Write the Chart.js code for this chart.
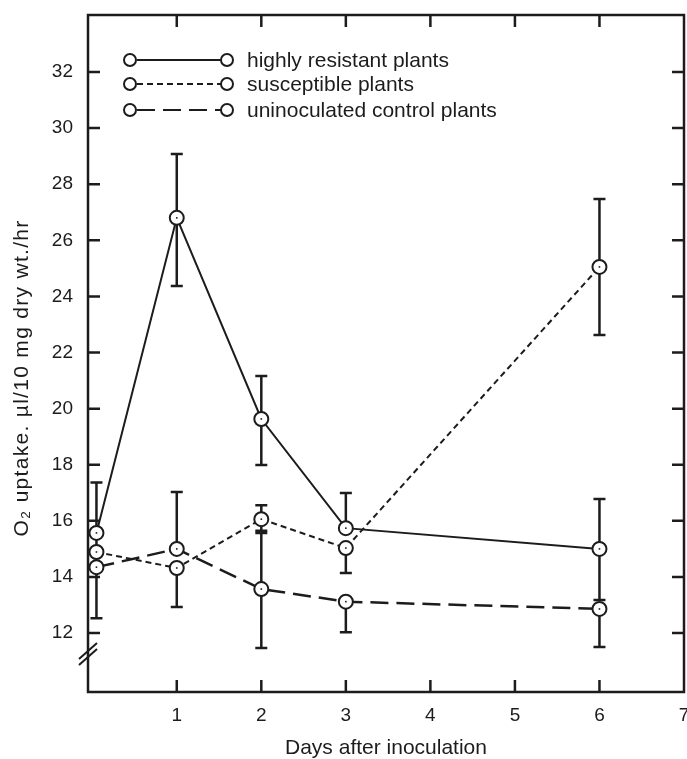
<!DOCTYPE html>
<html>
<head>
<meta charset="utf-8">
<script src="https://cdn.jsdelivr.net/npm/chart.js@4.4.1/dist/chart.umd.min.js"></script>
<style>
  html, body { margin: 0; padding: 0; background: #fff; }
  #wrap { width: 687px; height: 759px; }
</style>
</head>
<body>
<div id="wrap"><canvas id="line-chart" width="687" height="759"></canvas></div>
<script>
// days after inoculation (first samples sit just right of the axis)
const days = [0.05, 1, 2, 3, 6];
const xTickValues = [1, 2, 3, 4, 5, 6, 7];
const yTickValues = [12, 14, 16, 18, 20, 22, 24, 26, 28, 30, 32];

const labels = ["highly resistant plants", "susceptible plants", "uninoculated control plants"];

const resistant = [15.57, 26.8, 19.63, 15.74, 15.0];
const susceptible = [14.89, 14.32, 16.06, 15.03, 25.05];
const control = [14.35, 15.0, 13.57, 13.12, 12.86];

// error bar ends (null = not drawn)
const resistantHi = [17.37, 29.08, 21.16, 16.99, 16.78];
const resistantLo = [12.53, 24.37, 17.99, null, 13.18];
const susceptibleHi = [null, null, 16.56, null, 27.47];
const susceptibleLo = [null, 12.93, 15.57, 14.14, 22.62];
const controlHi = [null, 17.03, 15.65, null, null];
const controlLo = [null, null, 11.47, 12.03, 11.5];

const ink = '#1c1c1c';
const fontFam = '"Liberation Sans", Arial, sans-serif';

const toPoints = (vals) => vals.map((v, i) => ({x: days[i], y: v}));

const errorBars = {
    id: 'errorBars',
    beforeDatasetsDraw(chart) {
        const {ctx, scales: {x, y}} = chart;
        const sets = [[resistant, resistantHi, resistantLo], [susceptible, susceptibleHi, susceptibleLo], [control, controlHi, controlLo]];
        ctx.save();
        ctx.strokeStyle = ink;
        ctx.lineWidth = 2.5;
        sets.forEach(([vals, hi, lo]) => {
            vals.forEach((v, i) => {
                const px = x.getPixelForValue(days[i]);
                [hi[i], lo[i]].forEach(end => {
                    if (end === null) return;
                    const py = y.getPixelForValue(end);
                    ctx.beginPath();
                    ctx.moveTo(px, y.getPixelForValue(v));
                    ctx.lineTo(px, py);
                    ctx.moveTo(px - 6, py);
                    ctx.lineTo(px + 6, py);
                    ctx.stroke();
                });
            });
        });
        ctx.restore();
    },
    afterDatasetsDraw(chart) {
        // little dot in the centre of each circle
        const {ctx} = chart;
        ctx.save();
        ctx.fillStyle = ink;
        chart.data.datasets.forEach((ds, di) => {
            chart.getDatasetMeta(di).data.forEach(pt => {
                ctx.fillRect(pt.x - 0.8, pt.y - 0.8, 1.6, 1.6);
            });
        });
        ctx.restore();
    }
};

const frame = {
    id: 'frame',
    afterDraw(chart) {
        const {ctx, chartArea: a, scales: {x, y}} = chart;
        ctx.save();
        ctx.strokeStyle = ink;
        ctx.lineWidth = 2.5;
        ctx.strokeRect(a.left, a.top, a.right - a.left, a.bottom - a.top);
        ctx.beginPath();
        yTickValues.forEach(v => {
            const py = y.getPixelForValue(v);
            ctx.moveTo(a.left, py); ctx.lineTo(a.left + 12, py);
            ctx.moveTo(a.right, py); ctx.lineTo(a.right - 12, py);
        });
        xTickValues.slice(0, 6).forEach(v => {
            const px = x.getPixelForValue(v);
            ctx.moveTo(px, a.bottom); ctx.lineTo(px, a.bottom - 12);
            ctx.moveTo(px, a.top); ctx.lineTo(px, a.top + 12);
        });
        ctx.stroke();

        // axis break marks
        ctx.lineWidth = 2;
        ctx.beginPath();
        ctx.moveTo(a.left - 9, a.bottom - 27); ctx.lineTo(a.left + 9, a.bottom - 43);
        ctx.moveTo(a.left - 9, a.bottom - 33); ctx.lineTo(a.left + 9, a.bottom - 49);
        ctx.stroke();

        // y title
        ctx.fillStyle = ink;
        ctx.font = '21px ' + fontFam;
        ctx.letterSpacing = '1.3px';
        ctx.textAlign = 'center';
        ctx.textBaseline = 'middle';
        ctx.translate(22, 378);
        ctx.rotate(-Math.PI / 2);
        ctx.fillText('O\u2082 uptake. \u00b5l/10 mg dry wt./hr', 0, 0);
        ctx.restore();

        // legend
        const dashes = [[], [6, 4], [18, 8]];
        const rows = [60, 84, 110];
        ctx.save();
        ctx.strokeStyle = ink;
        ctx.fillStyle = ink;
        ctx.font = '21px ' + fontFam;
        ctx.textBaseline = 'middle';
        rows.forEach((ry, i) => {
            ctx.lineWidth = 2;
            ctx.setLineDash(dashes[i]);
            ctx.beginPath();
            ctx.moveTo(137, ry); ctx.lineTo(221, ry);
            ctx.stroke();
            ctx.setLineDash([]);
            [130, 227].forEach(cx => {
                ctx.beginPath();
                ctx.arc(cx, ry, 6, 0, Math.PI * 2);
                ctx.stroke();
            });
            ctx.fillText(labels[i], 247, ry + 1);
        });
        ctx.restore();
    }
};

const ctx = document.getElementById("line-chart");

const pointOpts = {
    pointRadius: 7,
    pointBorderWidth: 2,
    pointBackgroundColor: '#fff',
    pointBorderColor: ink,
    borderColor: ink,
    fill: false,
    tension: 0,
};

let chartGraph = new Chart(ctx, {
    type: "line",
    data: {
        datasets: [
            {label: labels[0], data: toPoints(resistant), borderWidth: 2, ...pointOpts},
            {label: labels[1], data: toPoints(susceptible), borderWidth: 2, borderDash: [6, 4], ...pointOpts},
            {label: labels[2], data: toPoints(control), borderWidth: 2.5, borderDash: [18, 8], ...pointOpts},
        ]
    },
    options: {
        responsive: false,
        animation: false,
        layout: {autoPadding: false, padding: {top: 15, right: 3, left: 0, bottom: 0}},
        plugins: {legend: {display: false}, tooltip: {enabled: false}},
        scales: {
            x: {
                type: 'linear',
                min: -0.05,
                max: 7,
                afterBuildTicks: (s) => { s.ticks = xTickValues.map(v => ({value: v})); },
                afterFit: (s) => { s.height = 67; s.paddingLeft = 0; s.paddingRight = 0; },
                grid: {display: false, drawTicks: false},
                border: {display: false},
                ticks: {color: ink, padding: 12, font: {size: 19, family: fontFam}},
                title: {
                    display: true,
                    text: 'Days after inoculation',
                    color: ink,
                    font: {size: 21, family: fontFam, lineHeight: 1},
                    padding: {top: 0, bottom: 0},
                },
            },
            y: {
                type: 'linear',
                min: 9.9,
                max: 34.03,
                afterBuildTicks: (s) => { s.ticks = yTickValues.map(v => ({value: v})); },
                afterFit: (s) => { s.width = 88; s.paddingTop = 0; s.paddingBottom = 0; },
                grid: {display: false, drawTicks: false},
                border: {display: false},
                ticks: {color: ink, padding: 15, font: {size: 19, family: fontFam}},
            },
        },
    },
    plugins: [errorBars, frame],
});
</script>
</body>
</html>
